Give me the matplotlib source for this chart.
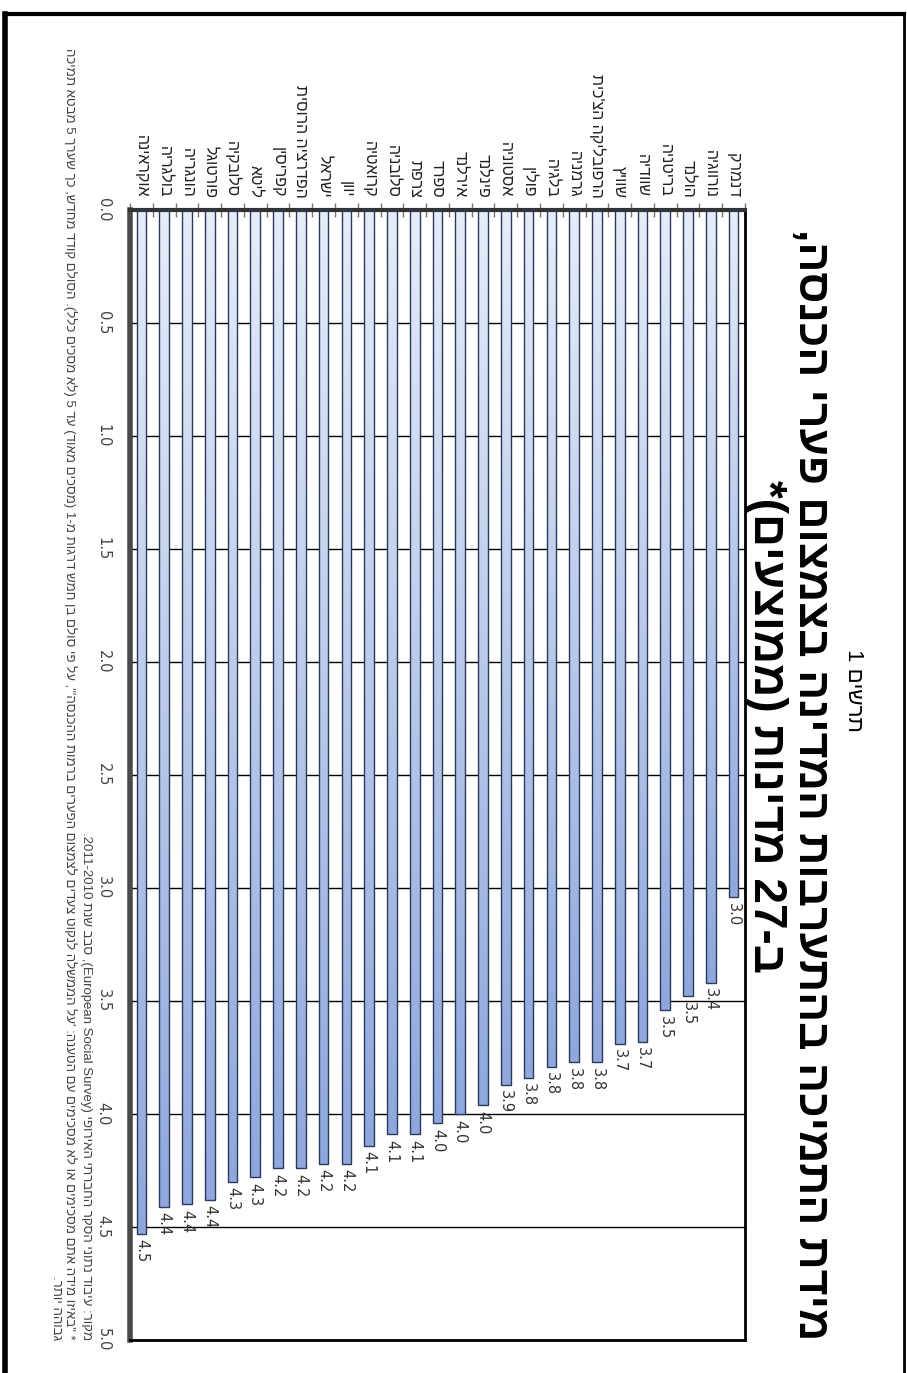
import re
import numpy as np
import matplotlib
matplotlib.use('Agg')
import matplotlib.pyplot as plt
from matplotlib.colors import LinearSegmentedColormap
from matplotlib.lines import Line2D

plt.rcParams['font.family'] = ['Liberation Sans', 'DejaVu Sans']

# data (countries ordered from the right of the picture to the left)
countries = ['דנמרק', 'נורווגיה', 'הולנד', 'בריטניה', 'שוודיה', 'שוויץ',
             "הרפובליקה הצ'כית", 'גרמניה', 'בלגיה', 'פולין', 'אסטוניה',
             'פינלנד', 'אירלנד', 'ספרד', 'צרפת', 'סלובניה', 'קרואטיה',
             'יוון', 'ישראל', 'הפדרציה הרוסית', 'קפריסין', 'ליטא',
             'סלובקיה', 'פורטוגל', 'הונגריה', 'בולגריה', 'אוקראינה']
values = [3.04, 3.42, 3.48, 3.54, 3.68, 3.69, 3.77, 3.77, 3.79, 3.84, 3.87,
          3.96, 4.00, 4.04, 4.09, 4.09, 4.14, 4.22, 4.22, 4.24, 4.24, 4.28,
          4.30, 4.38, 4.40, 4.41, 4.53]
value_ticks = [0.0, 0.5, 1.0, 1.5, 2.0, 2.5, 3.0, 3.5, 4.0, 4.5, 5.0]

chart_no = 'תרשים 1'
title_1 = 'מידת התמיכה בהתערבות המדינה בצמצום פערי הכנסה,'
title_2 = 'ב-27 מדינות (ממוצעים)*'
source = 'מקור: עיבוד נתוני הסקר החברתי האירופי (European Social Survey), סבב שנת 2010-2011.'
note_1 = ('* "באיזו מידה אתם מסכימים או לא מסכימים עם הטענה: \'על הממשלה לנקוט צעדים '
          'לצמצום הפערים ברמות ההכנסה\'", על פי סולם בן חמש דרגות מ-1 (מסכים מאוד) '
          'עד 5 (לא מסכים כלל). הסולם קודד מחדש, כך שערך 5 מבטא תמיכה')
note_2 = 'גבוהה יותר.'


def vis(s):
    # crude bidi: reverse the hebrew, keep latin/digit runs, mirror brackets
    toks = re.findall(r'[A-Za-z0-9]+(?: [A-Za-z0-9]+)*|.', s)
    mirror = {'(': ')', ')': '('}
    return ''.join(mirror.get(t, t) for t in reversed(toks))


W, H = 907, 1373


def fx(x):
    return x / W


def fy(y):
    return 1 - y / H


fig = plt.figure(figsize=(W / 100, H / 100), dpi=100)
ax = fig.add_axes([fx(130), fy(1340), (745 - 130) / W, (1340 - 210) / H])

idx = np.arange(len(countries))
bars = ax.bar(idx, values, width=0.42, facecolor='none', edgecolor='#2b3a5a',
              linewidth=1, zorder=3)

cmap = LinearSegmentedColormap.from_list('bar', ['#e6edf9', '#8fa7dc'])
grad = np.linspace(0, 1, 200).reshape(-1, 1)
for b in bars:
    x0, w, h = b.get_x(), b.get_width(), b.get_height()
    im = ax.imshow(grad, extent=(x0, x0 + w, h, 0), cmap=cmap, aspect='auto',
                   interpolation='bilinear', zorder=2)
    im.set_clip_path(b)

for i, v in zip(idx, values):
    ax.annotate(f'{v:.1f}', (i, v), xytext=(0, -4), textcoords='offset points',
                rotation=270, rotation_mode='anchor', ha='left', va='center',
                fontsize=10.5, color='#333333', family='DejaVu Sans')

ax.set_xlim(len(countries) - 0.5, -0.5)
ax.set_ylim(5, 0)

ax.xaxis.tick_top()
ax.set_xticks(idx)
ax.set_xticklabels([vis(c) for c in countries], rotation=270, fontsize=11.5,
                   color='#222222')
for lab in ax.get_xticklabels():
    lab.set_va('bottom')
    lab.set_ha('center')
ax.tick_params(axis='x', which='major', length=0, pad=9)
ax.set_xticks(np.arange(-0.5, len(countries)), minor=True)
ax.tick_params(axis='x', which='minor', top=True, bottom=False, length=10,
               direction='inout', color='#777777', width=1)

ax.set_yticks(value_ticks)
ax.set_yticklabels([f'{t:.1f}' for t in value_ticks], rotation=270,
                   fontsize=10.5, color='#444444', family='DejaVu Sans')
for lab in ax.get_yticklabels():
    lab.set_va('center')
ax.tick_params(axis='y', length=0, pad=14)

ax.grid(axis='y', color='black', linewidth=1)
ax.set_axisbelow(True)

ax.spines['left'].set_linewidth(4)
ax.spines['left'].set_color('#4a4a4a')
ax.spines['top'].set_linewidth(3)
ax.spines['top'].set_color('#333333')
ax.spines['right'].set_linewidth(2)
ax.spines['bottom'].set_linewidth(2)

# titles
fig.text(fx(853), fy(690), vis(chart_no), rotation=270, rotation_mode='anchor',
         ha='center', va='center', fontsize=16)
fig.text(fx(810), fy(785), vis(title_1), rotation=270, rotation_mode='anchor',
         ha='center', va='center', fontsize=32, fontweight='bold')
fig.text(fx(766), fy(727), vis(title_2), rotation=270, rotation_mode='anchor',
         ha='center', va='center', fontsize=33, fontweight='bold')

# notes
fig.text(fx(86), fy(1340), vis(source), rotation=270, rotation_mode='anchor',
         ha='right', va='center', fontsize=9.5, color='#444444')
fig.text(fx(70), fy(1340), vis(note_1), rotation=270, rotation_mode='anchor',
         ha='right', va='center', fontsize=9.5, color='#444444')
fig.text(fx(56), fy(1340), vis(note_2), rotation=270, rotation_mode='anchor',
         ha='right', va='center', fontsize=9.5, color='#444444')

# frame round the page
fig.add_artist(Line2D([fx(5), fx(5)], [fy(14), 0], color='black', lw=4))
fig.add_artist(Line2D([fx(5), fx(904)], [fy(14), fy(14)], color='black', lw=3))
fig.add_artist(Line2D([fx(904), fx(904)], [fy(14), 0], color='black', lw=2))

fig.savefig('out.png', dpi=100)
